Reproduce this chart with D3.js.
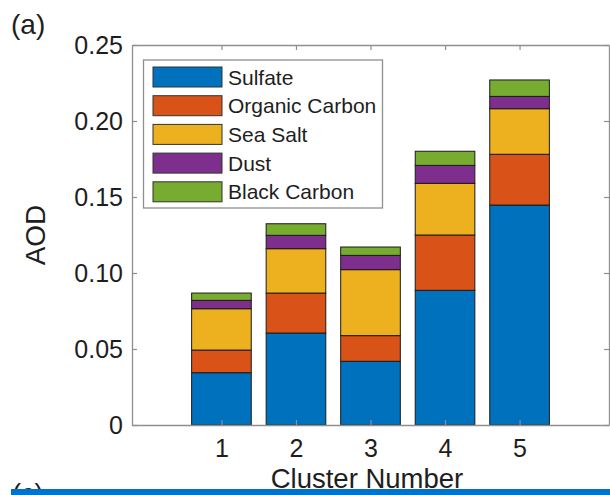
<!DOCTYPE html>
<html>
<head>
<meta charset="utf-8">
<script src="https://cdn.jsdelivr.net/npm/d3@7"></script>
<style>
  html, body { margin: 0; padding: 0; background: #fff; }
  svg { display: block; font-family: "Liberation Sans", Arial, sans-serif; }
</style>
</head>
<body>
<svg id="chart" width="610" height="495"></svg>
<script>
// Cluster labels and per-species AOD contributions (stacked bottom to top)
const clusters = [1, 2, 3, 4, 5];
const species = ["Sulfate", "Organic Carbon", "Sea Salt", "Dust", "Black Carbon"];
const sulfate       = [0.0344, 0.0605, 0.0419, 0.0886, 0.1447];
const organicCarbon = [0.0149, 0.0263, 0.0169, 0.0364, 0.0334];
const seaSalt       = [0.0272, 0.0292, 0.0434, 0.0340, 0.0300];
const dust          = [0.0055, 0.0088, 0.0094, 0.0118, 0.0081];
const blackCarbon   = [0.0048, 0.0076, 0.0055, 0.0093, 0.0108];
const yTicks = [0, 0.05, 0.10, 0.15, 0.20, 0.25];
const yTickLabels = ["0", "0.05", "0.10", "0.15", "0.20", "0.25"];
const colors = ["#0072BD", "#D95319", "#EDB120", "#7E2F8E", "#77AC30"];

const seriesValues = [sulfate, organicCarbon, seaSalt, dust, blackCarbon];
const rows = clusters.map((c, i) => {
  const r = { cluster: c };
  species.forEach((s, k) => { r[s] = seriesValues[k][i]; });
  return r;
});
const stacked = d3.stack().keys(species)(rows);

const svg = d3.select("#chart");
const axisColor = "#8f8f8f";
const textColor = "#1e1e1e";

const plot = { left: 132, right: 609, top: 45, bottom: 425 };
const x = d3.scaleLinear().domain([-0.2, 6.2]).range([plot.left, plot.right]);
const y = d3.scaleLinear().domain([0, 0.25]).range([plot.bottom, plot.top]);
const barW = x(0.8) - x(0);

// Stacked bars
const layers = svg.append("g").selectAll("g")
  .data(stacked).join("g")
  .attr("fill", (d, i) => colors[i]);
layers.selectAll("rect")
  .data(d => d).join("rect")
  .attr("x", d => x(d.data.cluster) - barW / 2)
  .attr("width", barW)
  .attr("y", d => y(d[1]))
  .attr("height", d => y(d[0]) - y(d[1]))
  .attr("stroke", "#1a1a1a")
  .attr("stroke-width", 1);

// Axes box with inward ticks
const tickLen = 5;
const gAxes = svg.append("g");
const bottomAxis = d3.axisBottom(x).tickValues(clusters).tickSize(-tickLen).tickPadding(14).tickSizeOuter(0)
  .tickFormat(d3.format("d"));
const topAxis = d3.axisTop(x).tickValues(clusters).tickSize(-tickLen).tickFormat("").tickSizeOuter(0);
const leftAxis = d3.axisLeft(y).tickValues(yTicks).tickSize(-tickLen).tickPadding(9).tickSizeOuter(0)
  .tickFormat((d, i) => yTickLabels[i]);
const rightAxis = d3.axisRight(y).tickValues(yTicks).tickSize(-tickLen).tickFormat("").tickSizeOuter(0);

gAxes.append("g").attr("transform", `translate(0,${plot.bottom})`).call(bottomAxis);
gAxes.append("g").attr("transform", `translate(0,${plot.top})`).call(topAxis);
gAxes.append("g").attr("transform", `translate(${plot.left},0)`).call(leftAxis);
gAxes.append("g").attr("transform", `translate(${plot.right},0)`).call(rightAxis);

gAxes.selectAll(".domain").attr("stroke", axisColor).attr("stroke-width", 1.3);
gAxes.selectAll(".tick line").attr("stroke", axisColor).attr("stroke-width", 1.2);
gAxes.selectAll(".tick text")
  .attr("fill", textColor)
  .style("font-size", "25px")
  .style("font-family", "'Liberation Sans', Arial, sans-serif");

// Axis titles
svg.append("text")
  .attr("x", 367).attr("y", 488)
  .attr("text-anchor", "middle")
  .attr("fill", textColor)
  .style("font-size", "27.5px")
  .text("Cluster Number");

svg.append("text")
  .attr("transform", "translate(45,235) rotate(-90)")
  .attr("text-anchor", "middle")
  .attr("fill", textColor)
  .style("font-size", "28px")
  .text("AOD");

// Panel letters (the next panel's letter sits under the band at the bottom)
svg.append("text")
  .attr("x", 11).attr("y", 34)
  .attr("fill", textColor)
  .style("font-size", "28px")
  .text("(a)");

svg.append("text")
  .attr("x", 12).attr("y", 502.5)
  .attr("fill", textColor)
  .style("font-size", "27px")
  .text("(c)");

// Legend
const legend = svg.append("g");
legend.append("rect")
  .attr("x", 143.5).attr("y", 60)
  .attr("width", 239).attr("height", 148)
  .attr("fill", "#fff")
  .attr("stroke", axisColor)
  .attr("stroke-width", 1.3);
const pitch = 28.7;
const items = legend.selectAll("g.item")
  .data(species).join("g")
  .attr("class", "item")
  .attr("transform", (d, i) => `translate(153,${67 + i * pitch})`);
items.append("rect")
  .attr("width", 69).attr("height", 20)
  .attr("fill", (d, i) => colors[i])
  .attr("stroke", "#333")
  .attr("stroke-width", 1);
items.append("text")
  .attr("x", 75).attr("y", 17.5)
  .attr("fill", textColor)
  .style("font-size", "21px")
  .text(d => d);

// Band along the lower edge
svg.append("rect")
  .attr("x", 11).attr("y", 489)
  .attr("width", 599).attr("height", 6)
  .attr("fill", "#0072CC");
</script>
</body>
</html>
